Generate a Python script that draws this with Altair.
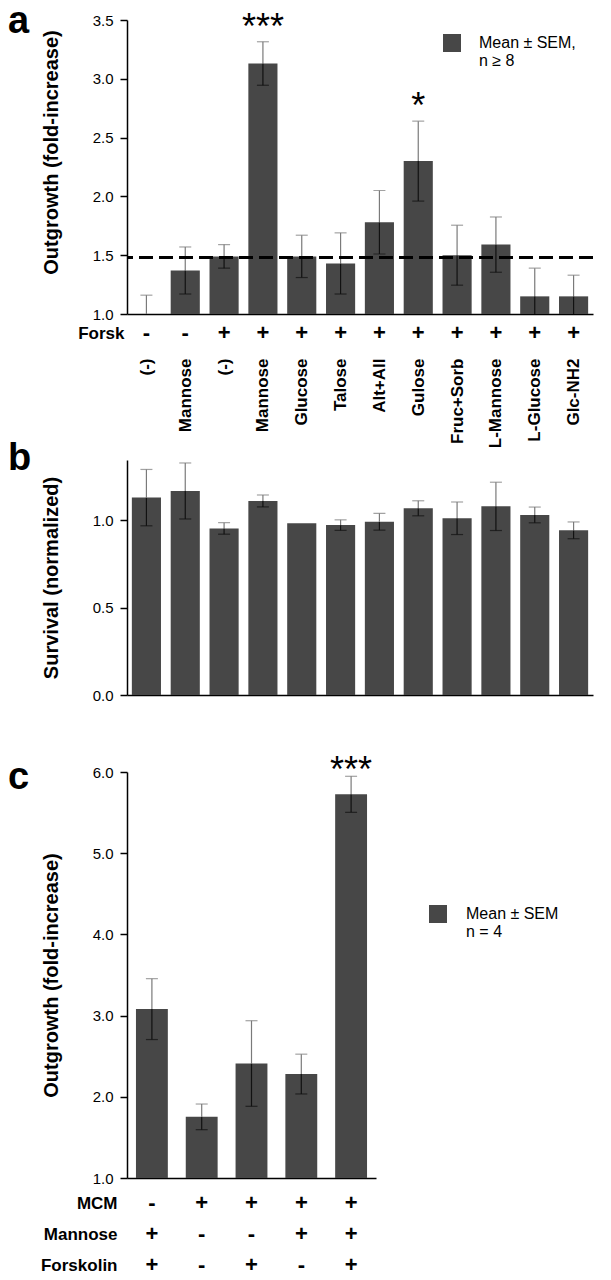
import json
import altair as alt
import pandas as pd

# ---------------- data ----------------
names_a = ["(-)", "Mannose", "(-)", "Mannose", "Glucose", "Talose", "Alt+All",
           "Gulose", "Fruc+Sorb", "L-Mannose", "L-Glucose", "Glc-NH2"]
forsk_a = ["-", "-", "+", "+", "+", "+", "+", "+", "+", "+", "+", "+"]
mean_a = [1.00, 1.37, 1.49, 3.13, 1.49, 1.43, 1.78, 2.30, 1.50, 1.59, 1.15, 1.15]
sem_a = [0.16, 0.20, 0.10, 0.185, 0.18, 0.26, 0.27, 0.34, 0.255, 0.235, 0.24, 0.18]
stars_a = ["", "", "", "***", "", "", "", "*", "", "", "", ""]
ref_line_a = [1.48]
legend_a = ["Mean ± SEM,", "n ≥ 8"]
row_a = ["Forsk"]

mean_b = [1.128, 1.166, 0.952, 1.109, 0.981, 0.971, 0.990, 1.067, 1.010, 1.078, 1.029, 0.941]
sem_b = [0.161, 0.160, 0.033, 0.034, 0.0, 0.030, 0.048, 0.043, 0.093, 0.138, 0.045, 0.048]

rows_c = ["MCM", "Mannose", "Forskolin"]
mcm_c = ["-", "+", "+", "+", "+"]
mannose_c = ["+", "-", "-", "+", "+"]
forskolin_c = ["+", "-", "+", "-", "+"]
mean_c = [3.08, 1.753, 2.41, 2.28, 5.725]
sem_c = [0.375, 0.158, 0.527, 0.245, 0.222]
stars_c = ["", "", "", "", "***"]
legend_c = ["Mean ± SEM", "n = 4"]

FONT = "Liberation Sans"
BAR = "#474747"
UP = "#7a7a7a"
LOW = "#111111"

label_expr_a = json.dumps(names_a) + "[toNumber(datum.value)]"


def err_layers(base, ytitle, clip):
    low_rule = base.transform_filter("datum.sem > 0").mark_rule(color=LOW, strokeWidth=1.2, clip=clip).encode(
        y=alt.Y("lo:Q", title=ytitle), y2="mean:Q")
    up_rule = base.transform_filter("datum.sem > 0").mark_rule(color=UP, strokeWidth=1.2, clip=clip).encode(
        y=alt.Y("mean:Q", title=ytitle), y2="hi:Q")
    low_cap = base.transform_filter("datum.sem > 0").mark_tick(color=LOW, thickness=1.2, size=12, clip=clip).encode(
        y=alt.Y("lo:Q", title=ytitle))
    up_cap = base.transform_filter("datum.sem > 0").mark_tick(color=UP, thickness=1.2, size=12, clip=clip).encode(
        y=alt.Y("hi:Q", title=ytitle))
    return [low_rule, up_rule, low_cap, up_cap]


def letter(t, dy):
    return alt.TitleParams(text=t, anchor="start", frame="group", align="left", baseline="alphabetic",
                           dx=-119, dy=dy, offset=0, fontSize=38, fontWeight="bold", color="black", font=FONT)


# ---------------- panel a ----------------
df_a = pd.DataFrame({"idx": list(range(len(names_a))), "mean": mean_a, "sem": sem_a,
                     "star": stars_a, "series": "|".join(legend_a)})
xa = alt.X("idx:O", scale=alt.Scale(paddingInner=0.25, paddingOuter=0.125),
           axis=alt.Axis(labels=False, ticks=False, title=None, domainColor="black", domainWidth=1.5))
ta = "Outgrowth (fold-increase)"
base_a = alt.Chart(df_a).encode(x=xa).transform_calculate(
    hi="datum.mean + datum.sem", lo="datum.mean - datum.sem")
bars_a = base_a.mark_bar().encode(
    y=alt.Y("mean:Q", title=ta, scale=alt.Scale(domain=[1.0, 3.5], nice=False, zero=False),
            axis=alt.Axis(values=[1.0, 1.5, 2.0, 2.5, 3.0, 3.5], format=".1f",
                          titleX=-76, titleY=132, titleBaseline="middle")),
    y2=alt.datum(1.0),
    color=alt.Color("series:N", scale=alt.Scale(range=[BAR]),
                    legend=alt.Legend(title=None, orient="none", legendX=316, legendY=14,
                                      symbolType="square", symbolSize=324, symbolStrokeWidth=0,
                                      labelFontSize=16, labelFont=FONT, labelColor="black",
                                      labelOffset=18, labelLimit=0, padding=0,
                                      labelExpr="split(datum.label, '|')")))
dash_a = alt.Chart(pd.DataFrame({"ref": ref_line_a})).mark_rule(
    color="black", strokeWidth=3, strokeDash=[14, 6]).encode(y=alt.Y("ref:Q", title=ta))
star_a = base_a.transform_filter("datum.star != ''").mark_text(
    font=FONT, fontSize=36, baseline="alphabetic", dy=-3, color="black").encode(
    y=alt.Y("hi:Q", title=ta), text="star:N")
panel_a = alt.layer(bars_a, *err_layers(base_a, ta, True), dash_a, star_a).properties(
    width=466, height=294, title=letter("a", 61))

df_sa = pd.DataFrame({"idx": list(range(len(names_a))), "row": row_a * len(names_a), "sign": forsk_a})
signs_a = alt.Chart(df_sa).mark_text(font=FONT, fontSize=22, fontWeight="bold", color="black").encode(
    x=alt.X("idx:O", scale=alt.Scale(paddingInner=0.25, paddingOuter=0.125),
            axis=alt.Axis(orient="bottom", labelExpr=label_expr_a, labelAngle=270, labelFontSize=17,
                          labelFontWeight="bold", labelPadding=6, ticks=False, domain=False,
                          title=None, labelColor="black")),
    y=alt.Y("row:N", axis=alt.Axis(title=None, ticks=False, domain=False, labelFontSize=17,
                                   labelFontWeight="bold", labelPadding=3, labelColor="black")),
    text="sign:N").properties(width=466, height=38)

# ---------------- panel b ----------------
df_b = pd.DataFrame({"idx": list(range(len(mean_b))), "mean": mean_b, "sem": sem_b})
tb = "Survival (normalized)"
base_b = alt.Chart(df_b).encode(x=xa).transform_calculate(
    hi="datum.mean + datum.sem", lo="datum.mean - datum.sem")
bars_b = base_b.mark_bar(color=BAR).encode(
    y=alt.Y("mean:Q", title=tb, scale=alt.Scale(domain=[0, 1.343], nice=False, range=[343, 108]),
            axis=alt.Axis(values=[0.0, 0.5, 1.0], format=".1f", titleX=-76, titleBaseline="middle")),
    y2=alt.datum(0))
panel_b = alt.layer(bars_b, *err_layers(base_b, tb, False)).properties(
    width=466, height=343, title=letter("b", 156))

# ---------------- panel c ----------------
df_c = pd.DataFrame({"idx": list(range(len(mean_c))), "mean": mean_c, "sem": sem_c,
                     "star": stars_c, "series": "|".join(legend_c)})
xc = alt.X("idx:O", scale=alt.Scale(paddingInner=0.36, paddingOuter=0.18),
           axis=alt.Axis(labels=False, ticks=False, title=None, domainColor="black", domainWidth=1.5))
tc = "Outgrowth (fold-increase)"
base_c = alt.Chart(df_c).encode(x=xc).transform_calculate(
    hi="datum.mean + datum.sem", lo="datum.mean - datum.sem")
bars_c = base_c.mark_bar().encode(
    y=alt.Y("mean:Q", title=tc, scale=alt.Scale(domain=[1.0, 6.0], nice=False, zero=False, range=[483, 77]),
            axis=alt.Axis(values=[1.0, 2.0, 3.0, 4.0, 5.0, 6.0], format=".1f",
                          titleX=-76, titleBaseline="middle")),
    y2=alt.datum(1.0),
    color=alt.Color("series:N", scale=alt.Scale(range=[BAR]),
                    legend=alt.Legend(title=None, orient="none", legendX=302, legendY=210,
                                      symbolType="square", symbolSize=324, symbolStrokeWidth=0,
                                      labelFontSize=16, labelFont=FONT, labelColor="black",
                                      labelOffset=19, labelLimit=0, padding=0,
                                      labelExpr="split(datum.label, '|')")))
star_c = base_c.transform_filter("datum.star != ''").mark_text(
    font=FONT, fontSize=36, baseline="alphabetic", dy=6, color="black").encode(
    y=alt.Y("hi:Q", title=tc), text="star:N")
panel_c = alt.layer(bars_c, *err_layers(base_c, tc, False), star_c).properties(
    width=249, height=483, title=letter("c", 132))

sc_rows = []
for r, signs in zip(rows_c, [mcm_c, mannose_c, forskolin_c]):
    for i, s in enumerate(signs):
        sc_rows.append({"idx": i, "row": r, "sign": s})
df_sc = pd.DataFrame(sc_rows)
signs_c = alt.Chart(df_sc).mark_text(font=FONT, fontSize=22, fontWeight="bold", color="black").encode(
    x=alt.X("idx:O", scale=alt.Scale(paddingInner=0.36, paddingOuter=0.18), axis=None),
    y=alt.Y("row:N", sort=rows_c, scale=alt.Scale(range=[9.5, 102.5]),
            axis=alt.Axis(title=None, ticks=False, domain=False, labelFontSize=17,
                          labelFontWeight="bold", labelPadding=10, labelColor="black")),
    text="sign:N").properties(width=249, height=103)

chart = alt.vconcat(panel_a, signs_a, panel_b, panel_c, signs_c, spacing=0, bounds="flush").resolve_scale(
    x="independent", y="independent", color="independent"
).properties(
    padding={"left": 0, "top": -6, "right": 5, "bottom": 0}
).configure(font=FONT).configure_view(strokeWidth=0).configure_axis(
    grid=False, labelFont=FONT, labelFontSize=15, labelColor="black", tickSize=7, tickWidth=1.5,
    tickColor="black", domainColor="black", domainWidth=1.5, labelPadding=7,
    titleFont=FONT, titleFontSize=20, titleFontWeight="bold", titleColor="black")

chart.save("out.html", embed_options={"renderer": "svg", "actions": False})
